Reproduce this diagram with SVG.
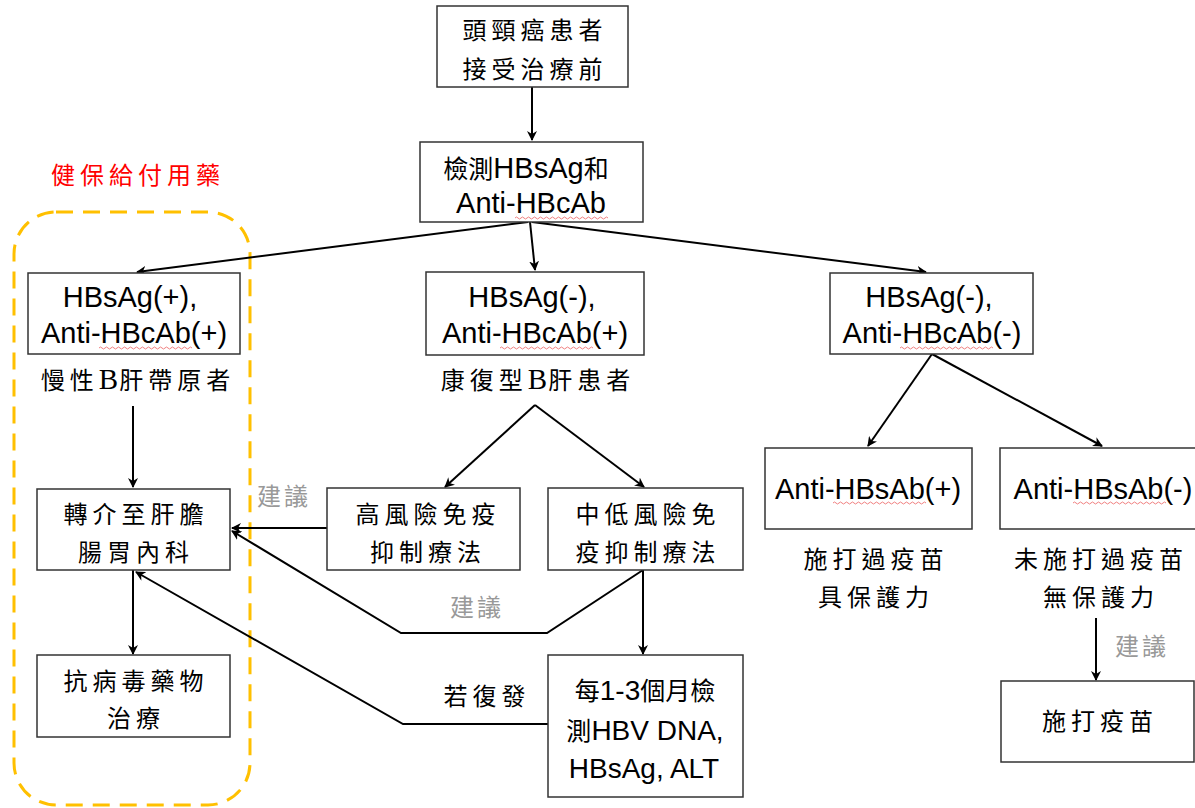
<svg xmlns="http://www.w3.org/2000/svg" width="1195" height="808" viewBox="0 0 1195 808">
<style>
.box{fill:#fff;stroke:#333;stroke-width:1.5}
.ln{fill:none;stroke:#000;stroke-width:2}
.arr{fill:none;stroke:#000;stroke-width:2;marker-end:url(#ah)}
.cjk{font-family:"Liberation Serif","Noto Sans CJK TC",serif;font-size:24px;letter-spacing:5px;fill:#000;text-anchor:middle}
.lat{font-family:"Liberation Sans","Noto Sans CJK TC",sans-serif;font-size:29px;fill:#000;text-anchor:middle}
.gray{font-family:"Liberation Serif","Noto Sans CJK TC",serif;font-size:24px;letter-spacing:3px;fill:#999;text-anchor:middle}
.red{font-family:"Liberation Serif","Noto Sans CJK TC",serif;font-size:24px;letter-spacing:5px;fill:#f00;text-anchor:middle}
.sq{fill:none;stroke:#f08080;stroke-width:1}
.small{font-size:25px}
.bigB{font-size:29px;letter-spacing:1px}
</style>
<defs>
<marker id="ah" markerWidth="10" markerHeight="10" refX="9" refY="5" orient="auto" markerUnits="userSpaceOnUse">
<path d="M0,0 L10,5 L0,10 L3,5 Z" fill="#000"/>
</marker>
<path id="wave" d="M0,0 q1.5,-2 3,0 t3,0 t3,0 t3,0 t3,0 t3,0 t3,0 t3,0 t3,0 t3,0 t3,0 t3,0 t3,0 t3,0 t3,0 t3,0 t3,0 t3,0 t3,0 t3,0 t3,0 t3,0 t3,0 t3,0 t3,0 t3,0 t3,0 t3,0 t3,0 t3,0 t3,0" class="sq"/>
</defs>
<rect width="1195" height="808" fill="#fff"/>

<g id="insurance">
<rect x="14" y="212" width="236" height="593" rx="42" fill="none" stroke="#FFC000" stroke-width="3" stroke-dasharray="17,10"/>
<text class="red" x="138" y="184">健保給付用藥</text>
</g>

<g id="connectors">
<line class="arr" x1="532" y1="87" x2="532" y2="140"/>
<line class="arr" x1="528" y1="222" x2="137" y2="272"/>
<line class="arr" x1="530" y1="222" x2="535" y2="270"/>
<line class="arr" x1="532" y1="222" x2="926" y2="272"/>
<line class="arr" x1="133" y1="406" x2="133" y2="487"/>
<line class="arr" x1="133" y1="570" x2="133" y2="654"/>
<line class="arr" x1="535" y1="405" x2="445" y2="487"/>
<line class="arr" x1="535" y1="405" x2="644" y2="487"/>
<line class="arr" x1="327" y1="528" x2="232" y2="528"/>
<polyline class="arr" points="643,570 547,633 401,633 232,531"/>
<line class="arr" x1="643" y1="570" x2="643" y2="654"/>
<polyline class="arr" points="548,724 403,724 136,572"/>
<line class="arr" x1="932" y1="354" x2="868" y2="446"/>
<line class="arr" x1="932" y1="354" x2="1102" y2="446"/>
<line class="arr" x1="1096" y1="618" x2="1096" y2="680"/>
<text class="gray" x="284" y="505">建議</text>
<text class="gray" x="477" y="616">建議</text>
<text class="cjk" x="487" y="705">若復發</text>
<text class="gray" x="1142" y="655">建議</text>
</g>

<g id="n1">
<rect class="box" x="437" y="6" width="191" height="81"/>
<text class="cjk" x="535" y="39">頭頸癌患者</text>
<text class="cjk" x="535" y="78">接受治療前</text>
</g>

<g id="n2">
<rect class="box" x="420" y="142" width="223" height="80"/>
<text class="lat" x="526" y="178"><tspan class="small">檢測</tspan>HBsAg<tspan class="small">和</tspan></text>
<text class="lat" x="531" y="213">Anti-HBcAb</text>
<use href="#wave" x="515" y="218"/>
</g>

<g id="n3">
<rect class="box" x="28" y="273" width="212" height="81"/>
<text class="lat" x="130" y="307">HBsAg(+),</text>
<text class="lat" x="134" y="343">Anti-HBcAb(+)</text>
<use href="#wave" x="99" y="348"/>
<text class="cjk" x="138" y="389">慢性<tspan class="bigB">B</tspan>肝帶原者</text>
</g>

<g id="n4">
<rect class="box" x="426" y="272" width="218" height="83"/>
<text class="lat" x="532" y="307">HBsAg(-),</text>
<text class="lat" x="535" y="343">Anti-HBcAb(+)</text>
<use href="#wave" x="500" y="348"/>
<text class="cjk" x="538" y="389">康復型<tspan class="bigB">B</tspan>肝患者</text>
</g>

<g id="n5">
<rect class="box" x="830" y="273" width="203" height="81"/>
<text class="lat" x="929" y="307">HBsAg(-),</text>
<text class="lat" x="932" y="343">Anti-HBcAb(-)</text>
<use href="#wave" x="900" y="348"/>
</g>

<g id="n6">
<rect class="box" x="37" y="489" width="193" height="81"/>
<text class="cjk" x="136" y="523">轉介至肝膽</text>
<text class="cjk" x="136" y="561">腸胃內科</text>
</g>

<g id="n7">
<rect class="box" x="37" y="655" width="193" height="82"/>
<text class="cjk" x="136" y="690">抗病毒藥物</text>
<text class="cjk" x="136" y="727">治療</text>
</g>

<g id="n8">
<rect class="box" x="327" y="488" width="193" height="82"/>
<text class="cjk" x="428" y="523">高風險免疫</text>
<text class="cjk" x="428" y="561">抑制療法</text>
</g>

<g id="n9">
<rect class="box" x="548" y="488" width="195" height="82"/>
<text class="cjk" x="648" y="523">中低風險免</text>
<text class="cjk" x="648" y="561">疫抑制療法</text>
</g>

<g id="n10">
<rect class="box" x="548" y="655" width="195" height="142"/>
<text class="lat" x="645" y="700" style="font-size:28px"><tspan class="small">每</tspan>1-3<tspan class="small">個月檢</tspan></text>
<text class="lat" x="645" y="740" style="font-size:28px"><tspan class="small">測</tspan>HBV DNA,</text>
<text class="lat" x="644" y="778" style="font-size:28px">HBsAg, ALT</text>
</g>

<g id="n11">
<rect class="box" x="765" y="448" width="207" height="81"/>
<text class="lat" x="868" y="499">Anti-HBsAb(+)</text>
<use href="#wave" x="833" y="503"/>
<text class="cjk" x="876" y="568">施打過疫苗</text>
<text class="cjk" x="876" y="606">具保護力</text>
</g>

<g id="n12">
<rect class="box" x="1000" y="448" width="200" height="81"/>
<text class="lat" x="1103" y="499">Anti-HBsAb(-)</text>
<use href="#wave" x="1073" y="503"/>
<text class="cjk" x="1101" y="568">未施打過疫苗</text>
<text class="cjk" x="1101" y="606">無保護力</text>
</g>

<g id="n13">
<rect class="box" x="1001" y="681" width="193" height="81"/>
<text class="cjk" x="1100" y="730">施打疫苗</text>
</g>
</svg>
